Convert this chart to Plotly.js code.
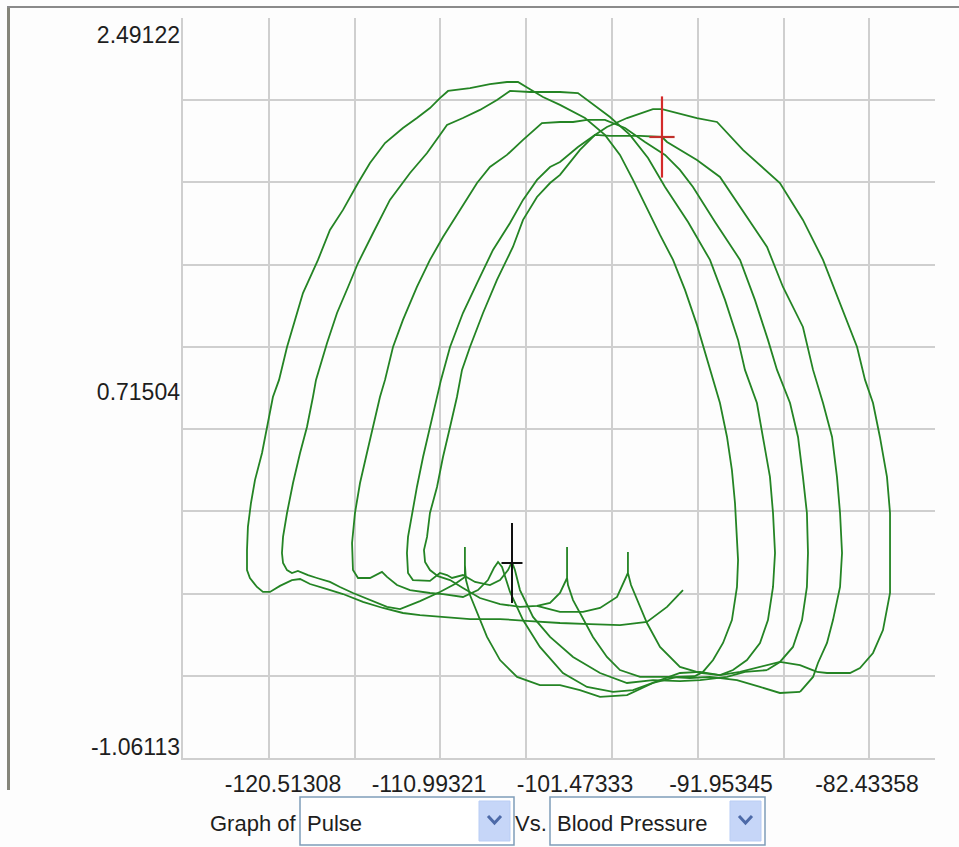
<!DOCTYPE html>
<html>
<head>
<meta charset="utf-8">
<script src="https://cdn.plot.ly/plotly-3.0.1.min.js"></script>
<style>
  html, body { margin: 0; padding: 0; background: #fdfdfd; }
  #chart { width: 959px; height: 847px; }
</style>
</head>
<body>
<div id="chart"></div>
<script>
// Blood pressure (x) vs Pulse (y) phase trajectory, split into consecutive cycles
const cycle1_bp = [-94.43,-95.47,-96.78,-98.54,-100.49,-102.45,-104.41,-106.36,-108.32,-110.28,-111.58,-112.69,-113.99,-115.30,-116.60,-117.64,-118.75,-119.40,-119.93,-120.71,-121.36,-121.82,-122.21,-122.67,-122.86,-122.86,-122.80,-122.60,-122.34,-121.88,-121.56,-121.17,-120.77,-120.25,-119.73,-119.21,-118.62,-118.23,-117.45,-116.60,-115.62,-114.84,-113.86,-112.69,-111.78,-110.93,-110.28,-109.75,-108.32,-107.02,-105.91,-105.19,-104.54,-103.56,-102.45,-100.82,-99.52,-98.54,-97.69,-96.91,-95.93,-95.08,-94.30,-93.52,-92.93,-92.47,-92.02,-91.56,-91.24,-91.04,-90.91,-90.84,-90.91,-91.24,-91.82,-92.47,-93.13,-93.65];
const cycle1_pulse = [-0.255,-0.336,-0.408,-0.423,-0.418,-0.413,-0.404,-0.394,-0.394,-0.384,-0.375,-0.365,-0.341,-0.312,-0.274,-0.250,-0.226,-0.202,-0.207,-0.235,-0.264,-0.264,-0.240,-0.197,-0.159,-0.063,0.048,0.163,0.273,0.403,0.528,0.672,0.754,0.912,1.042,1.171,1.267,1.330,1.474,1.570,1.699,1.795,1.891,1.963,2.011,2.059,2.107,2.141,2.155,2.174,2.184,2.184,2.155,2.112,2.074,2.011,1.930,1.834,1.714,1.594,1.450,1.330,1.186,1.018,0.874,0.754,0.643,0.480,0.321,0.163,0.000,-0.111,-0.240,-0.399,-0.509,-0.591,-0.648,-0.668];

const cycle2_bp = [-93.65,-94.82,-96.39,-98.08,-99.84,-101.15,-102.45,-103.76,-105.25,-106.36,-107.21,-107.86,-108.32,-108.58,-108.65,-108.65,-108.65,-109.30,-110.28,-111.58,-112.88,-113.73,-114.84,-115.95,-116.80,-117.45,-118.30,-118.88,-119.54,-119.93,-120.25,-120.51,-120.58,-120.51,-120.25,-119.86,-119.40,-118.95,-118.56,-118.36,-117.64,-116.99,-116.27,-115.62,-114.64,-113.54,-112.23,-111.12,-110.28,-109.82,-108.78,-107.67,-106.56,-105.71,-104.41,-102.45,-101.28,-100.49,-99.19,-97.89,-96.71,-95.60,-94.10,-92.67,-91.69,-90.84,-90.39,-89.61,-89.21,-88.76,-88.56,-88.43,-88.56,-88.89,-89.41,-90.26,-91.17,-92.02];
const cycle2_pulse = [-0.668,-0.672,-0.701,-0.759,-0.768,-0.735,-0.711,-0.711,-0.672,-0.591,-0.480,-0.360,-0.279,-0.207,-0.135,-0.048,-0.192,-0.226,-0.264,-0.308,-0.346,-0.336,-0.303,-0.269,-0.240,-0.216,-0.197,-0.183,-0.163,-0.173,-0.159,-0.125,-0.077,0.000,0.115,0.259,0.403,0.528,0.672,0.754,0.931,1.075,1.200,1.315,1.459,1.618,1.747,1.843,1.930,1.978,2.011,2.050,2.098,2.141,2.136,2.136,2.131,2.088,2.016,1.930,1.819,1.680,1.512,1.330,1.138,0.946,0.802,0.643,0.480,0.288,0.115,-0.077,-0.240,-0.399,-0.509,-0.591,-0.639,-0.663];

const cycle3_bp = [-92.02,-93.32,-94.63,-96.39,-97.69,-98.99,-100.69,-102.26,-103.76,-104.86,-105.71,-106.23,-106.49,-106.76,-107.15,-107.80,-108.78,-110.08,-110.93,-112.23,-113.08,-113.73,-114.06,-114.84,-115.62,-115.95,-116.01,-115.82,-115.49,-115.04,-114.64,-114.19,-113.86,-113.34,-112.69,-111.78,-110.93,-110.08,-108.97,-107.86,-107.02,-105.91,-104.86,-103.63,-102.45,-101.60,-100.69,-99.52,-98.21,-96.91,-95.60,-94.63,-93.78,-92.34,-90.71,-89.74,-88.89,-88.30,-87.45,-86.93,-86.61,-86.35,-86.28,-86.35,-86.67,-87.26,-88.11,-88.95];
const cycle3_pulse = [-0.663,-0.648,-0.653,-0.701,-0.735,-0.744,-0.720,-0.653,-0.528,-0.399,-0.264,-0.144,-0.120,-0.149,-0.207,-0.255,-0.288,-0.274,-0.269,-0.255,-0.231,-0.192,-0.168,-0.197,-0.197,-0.159,-0.029,0.115,0.259,0.403,0.528,0.672,0.754,0.912,1.042,1.200,1.330,1.440,1.570,1.699,1.776,1.834,1.906,1.987,1.992,1.992,2.002,2.002,1.963,1.896,1.834,1.762,1.680,1.512,1.330,1.138,0.946,0.802,0.643,0.480,0.288,0.115,-0.077,-0.240,-0.399,-0.528,-0.600,-0.639];

const cycle4_bp = [-88.95,-90.39,-91.56,-93.32,-94.63,-96.39,-98.08,-99.84,-101.60,-103.10,-104.21,-105.06,-105.39,-105.58,-105.84,-106.36,-107.02,-107.99,-108.78,-109.49,-109.82,-110.28,-110.93,-112.04,-112.36,-112.43,-112.36,-112.10,-111.78,-111.38,-110.93,-110.47,-110.21,-109.62,-108.78,-107.86,-106.82,-105.71,-104.86,-103.95,-103.10,-102.45,-101.28,-100.17,-99.19,-97.23,-95.80,-95.47,-93.52,-92.02,-90.71,-88.95,-87.91,-86.61,-85.95,-85.30,-84.71,-84.39,-84.19,-84.06,-84.19,-84.65,-85.04,-85.63,-85.95,-86.80];
const cycle4_pulse = [-0.639,-0.648,-0.672,-0.687,-0.692,-0.687,-0.701,-0.653,-0.576,-0.480,-0.384,-0.255,-0.159,-0.120,-0.159,-0.207,-0.231,-0.216,-0.183,-0.197,-0.183,-0.173,-0.211,-0.207,-0.173,-0.077,0.000,0.115,0.240,0.384,0.528,0.672,0.754,0.912,1.075,1.219,1.378,1.507,1.618,1.714,1.776,1.800,1.872,1.930,1.925,1.925,1.920,1.896,1.810,1.728,1.584,1.392,1.200,1.008,0.802,0.643,0.480,0.288,0.115,-0.077,-0.240,-0.399,-0.509,-0.605,-0.672,-0.744];

const cycle5_bp = [-86.80,-88.11,-89.41,-90.91,-92.67,-93.97,-95.47,-97.23,-98.54,-99.39,-100.30,-101.02,-101.60,-101.93,-101.99,-101.99,-101.99,-102.45,-103.10,-103.95,-105.06,-106.36,-107.67,-108.78,-109.62,-110.41,-110.93,-111.25,-111.32,-111.12,-110.93,-110.47,-110.08,-109.62,-109.17,-108.84,-108.32,-107.47,-106.56,-105.52,-104.86,-103.95,-103.10,-102.45,-101.15,-100.17,-99.39,-98.08,-96.39,-95.80,-93.52,-92.21,-90.52,-88.11,-86.61,-85.30,-84.19,-83.08,-82.56,-82.04,-81.59,-81.13,-80.93,-80.93,-80.93,-81.39,-82.04,-82.89,-83.54,-85.04,-85.69];
const cycle5_pulse = [-0.744,-0.749,-0.720,-0.687,-0.672,-0.677,-0.672,-0.672,-0.639,-0.576,-0.480,-0.384,-0.303,-0.231,-0.197,-0.048,-0.197,-0.269,-0.317,-0.331,-0.336,-0.322,-0.293,-0.245,-0.207,-0.188,-0.159,-0.120,-0.063,0.000,0.115,0.240,0.384,0.528,0.672,0.802,0.912,1.075,1.234,1.392,1.522,1.632,1.699,1.738,1.858,1.930,1.968,2.011,2.054,2.054,2.011,1.992,1.858,1.699,1.522,1.330,1.123,0.912,0.754,0.643,0.480,0.288,0.115,-0.077,-0.269,-0.447,-0.557,-0.629,-0.653,-0.653,-0.648];

const tail_bp = [-85.69,-86.80,-88.11,-89.41,-90.71,-92.02,-93.32,-94.63,-95.93,-96.78,-97.43,-97.82,-98.02,-98.02,-98.02,-98.73,-99.84,-100.95,-102.45,-103.95];
const tail_pulse = [-0.648,-0.615,-0.600,-0.624,-0.648,-0.663,-0.653,-0.624,-0.528,-0.413,-0.303,-0.231,-0.173,-0.072,-0.173,-0.288,-0.341,-0.360,-0.360,-0.331];

// cursors
const redCursor = { bp: [-95.80], pulse: [1.920] };
const blackCursor = { bp: [-105.58], pulse: [-0.125] };

// axis labels
const xTickValues = [-120.51308, -110.99321, -101.47333, -91.95345, -82.43358];
const xTickLabels = ["-120.51308", "-110.99321", "-101.47333", "-91.95345", "-82.43358"];
const yTickLabels = ["2.49122", "0.71504", "-1.06113"];
const yTickValues = [2.412, 0.696, -1.008];
const yRange = [-1.06113, 2.49122];
const xRange = [-127.033, -77.998];

const green = '#248424';
const lineW = 1.8;
const cycles = [
  [cycle1_bp, cycle1_pulse], [cycle2_bp, cycle2_pulse], [cycle3_bp, cycle3_pulse],
  [cycle4_bp, cycle4_pulse], [cycle5_bp, cycle5_pulse], [tail_bp, tail_pulse]
];
const traces = cycles.map(c => ({
  type: 'scatter', mode: 'lines', x: c[0], y: c[1],
  line: { color: green, width: lineW, shape: 'linear' }, hoverinfo: 'skip'
}));

traces.push({ type: 'scatter', mode: 'markers', x: redCursor.bp, y: redCursor.pulse,
  marker: { symbol: 'line-ns', size: 58, line: { color: '#d42a2a', width: 2.2 } }, hoverinfo: 'skip' });
traces.push({ type: 'scatter', mode: 'markers', x: redCursor.bp, y: redCursor.pulse,
  marker: { symbol: 'line-ew', size: 18, line: { color: '#c0302a', width: 2.2 } }, hoverinfo: 'skip' });
traces.push({ type: 'scatter', mode: 'markers', x: blackCursor.bp, y: blackCursor.pulse, xaxis: 'x2', yaxis: 'y2',
  marker: { symbol: 'line-ns', size: 57, line: { color: '#111111', width: 2 } }, hoverinfo: 'skip' });
traces.push({ type: 'scatter', mode: 'markers', x: blackCursor.bp, y: blackCursor.pulse, xaxis: 'x2', yaxis: 'y2',
  marker: { symbol: 'line-ew', size: 15, line: { color: '#111111', width: 2 } }, hoverinfo: 'skip' });

const PW = 752, PH = 740, L = 183, T = 18;
const px = v => (v - L) / PW;
const py = v => (T + PH - v) / PH;

const gridCol = '#cfcfcf';
const labelFont = { family: 'Liberation Sans, Arial, sans-serif', size: 23, color: '#1e1e1e' };
const uiFont = { family: 'Liberation Sans, Arial, sans-serif', size: 22, color: '#1e1e1e' };

const shapes = [
  // panel frame
  { type: 'line', xref: 'paper', yref: 'paper', x0: px(8.5), x1: px(8.5), y0: py(6), y1: py(790), line: { color: '#85857a', width: 3 } },
  { type: 'line', xref: 'paper', yref: 'paper', x0: px(7), x1: px(959), y0: py(7), y1: py(7), line: { color: '#8a8a8a', width: 2 } },
  // combo box 1
  { type: 'rect', xref: 'paper', yref: 'paper', x0: px(300), x1: px(514), y0: py(845), y1: py(797), line: { color: '#7f9db9', width: 1.5 }, fillcolor: '#ffffff' },
  { type: 'rect', xref: 'paper', yref: 'paper', x0: px(479), x1: px(510), y0: py(841), y1: py(801), line: { color: '#b9cdf4', width: 1 }, fillcolor: '#c6d6f8' },
  { type: 'path', xref: 'paper', yref: 'paper', path: `M ${px(488)} ${py(816)} L ${px(494.5)} ${py(823)} L ${px(501)} ${py(816)}`, line: { color: '#4d6aa8', width: 3 } },
  // combo box 2
  { type: 'rect', xref: 'paper', yref: 'paper', x0: px(550), x1: px(765), y0: py(845), y1: py(797), line: { color: '#7f9db9', width: 1.5 }, fillcolor: '#ffffff' },
  { type: 'rect', xref: 'paper', yref: 'paper', x0: px(730), x1: px(761), y0: py(841), y1: py(801), line: { color: '#b9cdf4', width: 1 }, fillcolor: '#c6d6f8' },
  { type: 'path', xref: 'paper', yref: 'paper', path: `M ${px(739)} ${py(816)} L ${px(745.5)} ${py(823)} L ${px(752)} ${py(816)}`, line: { color: '#4d6aa8', width: 3 } }
];

const annotations = [
  { xref: 'paper', yref: 'paper', x: px(298), y: py(823), xanchor: 'right', yanchor: 'middle', text: 'Graph of', showarrow: false, font: uiFont },
  { xref: 'paper', yref: 'paper', x: px(305), y: py(823), xanchor: 'left', yanchor: 'middle', text: 'Pulse', showarrow: false, font: uiFont },
  { xref: 'paper', yref: 'paper', x: px(513), y: py(823), xanchor: 'left', yanchor: 'middle', text: 'Vs.', showarrow: false, font: uiFont },
  { xref: 'paper', yref: 'paper', x: px(555), y: py(823), xanchor: 'left', yanchor: 'middle', text: 'Blood Pressure', showarrow: false, font: uiFont }
];

const layout = {
  width: 959, height: 847,
  margin: { l: L, r: 959 - L - PW, t: T, b: 847 - T - PH, pad: 0 },
  paper_bgcolor: '#fdfdfd', plot_bgcolor: '#fdfdfd',
  showlegend: false,
  xaxis: { range: xRange, tickmode: 'linear', tick0: xRange[0], dtick: 5.5947,
    showgrid: true, gridcolor: gridCol, gridwidth: 2, zeroline: false,
    showline: true, linecolor: gridCol, linewidth: 2, showticklabels: false, ticks: '' },
  yaxis: { range: yRange, tickmode: 'linear', tick0: yRange[0], dtick: (yRange[1] - yRange[0]) / 9,
    showgrid: true, gridcolor: gridCol, gridwidth: 2, zeroline: false,
    showline: true, linecolor: gridCol, linewidth: 2, showticklabels: false, ticks: '' },
  xaxis2: { overlaying: 'x', anchor: 'y2', side: 'bottom', range: xRange, tickmode: 'array',
    tickvals: xTickValues, ticktext: xTickLabels, showgrid: false, zeroline: false, showline: false,
    ticks: '', tickfont: labelFont, ticklabelstandoff: 10 },
  yaxis2: { overlaying: 'y', anchor: 'x2', side: 'left', range: yRange, tickmode: 'array',
    tickvals: yTickValues, ticktext: yTickLabels, showgrid: false, zeroline: false, showline: false,
    ticks: '', tickfont: labelFont, ticklabelstandoff: 2 },
  shapes: shapes,
  annotations: annotations
};

Plotly.newPlot('chart', traces, layout, { displayModeBar: false, staticPlot: true });
</script>
</body>
</html>
